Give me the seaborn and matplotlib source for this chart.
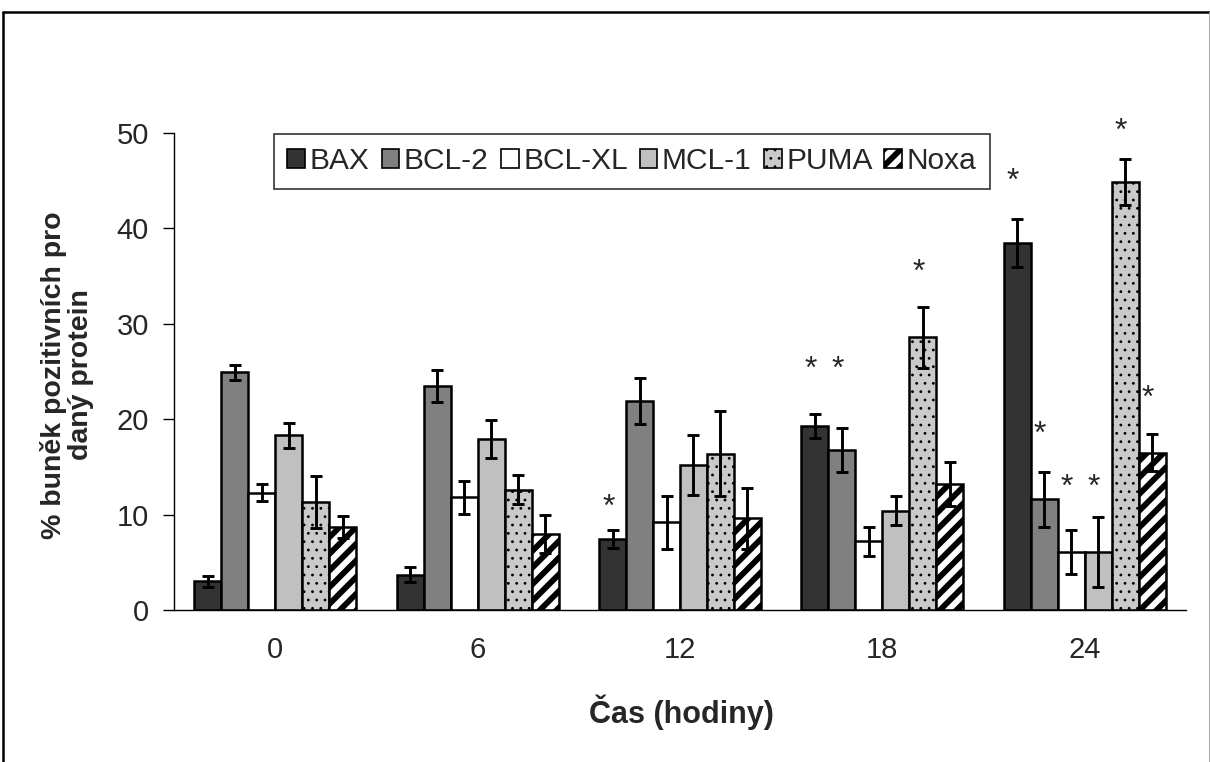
import matplotlib
matplotlib.use('Agg')
import matplotlib.pyplot as plt
from matplotlib.patches import Patch
from matplotlib.lines import Line2D
import seaborn as sns
import numpy as np
import pandas as pd

# Data (mean % of positive cells, +/- error)
times = ['0', '6', '12', '18', '24']
proteins = ['BAX', 'BCL-2', 'BCL-XL', 'MCL-1', 'PUMA', 'Noxa']

bax = [3.0, 3.7, 7.4, 19.3, 38.5]
bcl2 = [24.9, 23.5, 21.9, 16.8, 11.6]
bclxl = [12.3, 11.8, 9.2, 7.2, 6.1]
mcl1 = [18.3, 17.9, 15.2, 10.4, 6.1]
puma = [11.3, 12.6, 16.4, 28.6, 44.9]
noxa = [8.7, 8.0, 9.6, 13.2, 16.5]

bax_err = [0.6, 0.8, 0.95, 1.25, 2.5]
bcl2_err = [0.8, 1.7, 2.4, 2.3, 2.9]
bclxl_err = [0.9, 1.7, 2.8, 1.5, 2.3]
mcl1_err = [1.3, 2.0, 3.1, 1.5, 3.7]
puma_err = [2.7, 1.5, 4.5, 3.2, 2.4]
noxa_err = [1.2, 2.0, 3.2, 2.3, 1.9]

# significance stars: (time index, protein index, y position)
stars = [(2, 0, 11.8), (3, 0, 26.2), (3, 1, 26.2), (3, 4, 36.4),
         (4, 0, 45.9), (4, 1, 19.4), (4, 2, 13.8), (4, 3, 13.8),
         (4, 4, 51.2), (4, 5, 23.2)]

means = [bax, bcl2, bclxl, mcl1, puma, noxa]
errs = [bax_err, bcl2_err, bclxl_err, mcl1_err, puma_err, noxa_err]

fills = ['#333333', '#808080', '#ffffff', '#c0c0c0', '#cacaca', '#ffffff']
hatches = [None, None, None, None, '..', '//']

df = pd.DataFrame({
    'time': [t for p in proteins for t in times],
    'protein': [p for p in proteins for t in times],
    'value': [v for vals in means for v in vals],
})

sns.set_style('white')
plt.rcParams['font.family'] = ['Liberation Sans', 'DejaVu Sans']
plt.rcParams['hatch.linewidth'] = 4.2


def thin_dots(patch, hatch):
    # keep the PUMA dots small while the Noxa stripes stay thick
    if hatch == '..' and hasattr(patch, 'set_hatch_linewidth'):
        patch.set_hatch_linewidth(0.8)


fig = plt.figure(figsize=(12.1, 7.62), dpi=100)
ax = fig.add_axes([174 / 1210, 1 - 610 / 762, 1012 / 1210, 477 / 762])

sns.barplot(data=df, x='time', y='value', hue='protein', order=times,
            hue_order=proteins, palette=fills, saturation=1, errorbar=None,
            width=0.8, edgecolor='black', linewidth=1.8, legend=False, ax=ax)

for cont, hatch, err in zip(ax.containers, hatches, errs):
    xs, hs = [], []
    for bar in cont:
        if hatch:
            bar.set_hatch(hatch)
            thin_dots(bar, hatch)
        xs.append(bar.get_x() + bar.get_width() / 2)
        hs.append(bar.get_height())
    ax.errorbar(xs, hs, yerr=err, fmt='none', ecolor='black',
                elinewidth=2.1, capsize=4.3, capthick=2.1, zorder=5)

for ti, pi, y in stars:
    bar = ax.containers[pi][ti]
    ax.annotate('*', (bar.get_x() + bar.get_width() / 2, y),
                xytext=(-3, -13), textcoords='offset points',
                ha='center', va='baseline', fontsize=23, annotation_clip=False)

ax.set_xlim(-0.5, 4.5)
ax.set_ylim(0, 50)
ax.set_yticks(np.arange(0, 51, 10))
ax.set_xticks(range(len(times)))
ax.set_xticklabels(times)
ax.set_xticks(np.arange(-0.5, 5, 1), minor=True)
ax.tick_params(axis='x', which='major', length=0, pad=19, labelsize=21)
ax.tick_params(axis='x', which='minor', length=8, width=1, direction='out', color='black')
ax.tick_params(axis='y', length=8, width=1, direction='out', pad=10,
               labelsize=21, left=True, color='black')
ax.set_xlabel('')
ax.set_ylabel('')
for side in ['top', 'right']:
    ax.spines[side].set_visible(False)
for side in ['left', 'bottom']:
    ax.spines[side].set_color('black')
    ax.spines[side].set_linewidth(1)

fig.text(681 / 1210, 1 - 712 / 762, 'Čas (hodiny)', ha='center', va='center',
         fontsize=22, fontweight='bold')
fig.text(67 / 1210, 1 - 375 / 762, '% buněk pozitivních pro\ndaný protein',
         rotation=90, ha='center', va='center', multialignment='center',
         fontsize=20.5, fontweight='bold', linespacing=1.05)

handles = [Patch(facecolor=f, edgecolor='black', hatch=h, linewidth=1.2)
           for f, h in zip(fills, hatches)]
leg = fig.legend(handles, proteins, loc='upper left',
                 bbox_to_anchor=(274 / 1210, 1 - 134 / 762), ncol=6,
                 fontsize=21.5, frameon=True, fancybox=False, framealpha=1,
                 edgecolor='#333333', handlelength=0.6, handleheight=0.6,
                 handletextpad=0.15, columnspacing=0.4, borderpad=0.45,
                 borderaxespad=0)
leg.get_frame().set_linewidth(1.2)
for h in leg.legend_handles:
    thin_dots(h, h.get_hatch())

# outer frame of the picture (left and top edges dark, right edge faint)
top = 1 - 12 / 762
fig.add_artist(Line2D([3 / 1210, 3 / 1210], [0.0, top],
                      transform=fig.transFigure, color='black', linewidth=1.8))
fig.add_artist(Line2D([3 / 1210, 1.0], [top, top],
                      transform=fig.transFigure, color='black', linewidth=1.8))
fig.add_artist(Line2D([1208.5 / 1210, 1208.5 / 1210], [0.0, top],
                      transform=fig.transFigure, color='#aaaaaa', linewidth=0.8))

fig.savefig('out.png', dpi=100)
